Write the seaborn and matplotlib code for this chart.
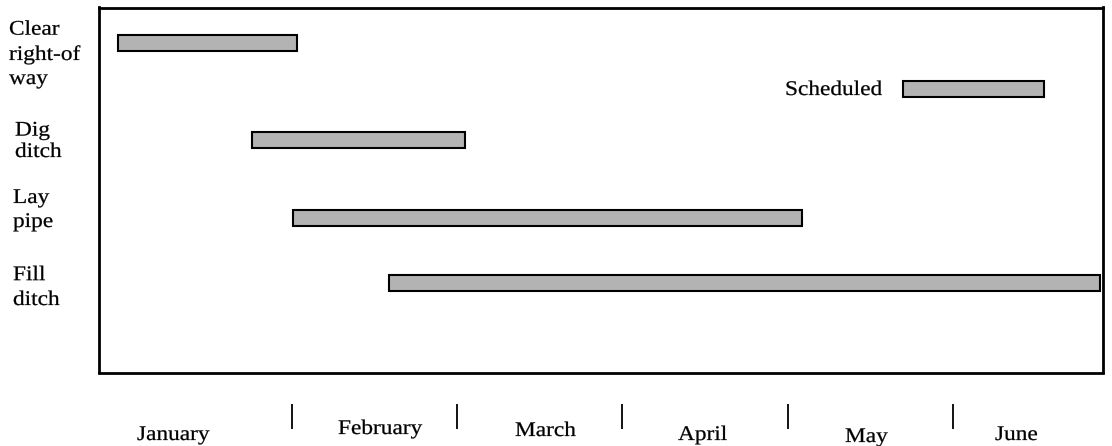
import matplotlib
matplotlib.use("Agg")
import matplotlib.pyplot as plt
import matplotlib.patheffects as pe
from matplotlib.transforms import Affine2D
import seaborn as sns

# ---- data (time axis in months, 0 = start of January) ----
tasks = ["Clear\nright-of\nway", "Dig\nditch", "Lay\npipe", "Fill\nditch"]
task_start = [-0.05, 0.76, 1.01, 1.59]
task_end = [1.03, 2.05, 4.09, 5.89]
months = ["January", "February", "March", "April", "May", "June"]
month_edges = [1, 2, 3, 4, 5]
legend_label = "Scheduled"
legend_span = [4.70, 5.55]

# ---- layout (pixel positions, measured from the top-left of the figure) ----
W, H = 1112, 446
row_y = [43, 140, 218.5, 283]
legend_y = 89.5
bar_h = 16
# (left x, baseline of last line, line spacing)
label_pos = [(9, 84, 1.36), (15, 157, 1.17), (13, 227, 1.36), (13, 305, 1.42)]
month_pos = [(137, 440), (338, 434), (515, 436), (678, 440), (845, 442), (995, 440)]
legend_text_pos = (785, 95)
px0, px_per_month = 126.3, 165.3      # pixel x of Jan 1, width of a month
ax_left, ax_right, ax_top, ax_bottom = 98.5, 1102.5, 7.5, 372.5
tick_top, tick_len = 404, 25

FACE = "#b3b3b3"


class WideInk(pe.AbstractPathEffect):
    """Widen glyphs horizontally about each line's left baseline point and
    give them a hairline outline so the type reads a touch heavier."""

    def __init__(self, sx, lw):
        super().__init__()
        self.sx = sx
        self.lw = lw

    def draw_path(self, renderer, gc, tpath, affine, rgbFace=None):
        gc0 = renderer.new_gc()
        gc0.copy_properties(gc)
        gc0.set_linewidth(self.lw)
        gc0.set_foreground(rgbFace if rgbFace is not None else "black")
        renderer.draw_path(gc0, tpath, Affine2D().scale(self.sx, 1.0) + affine, rgbFace)
        gc0.restore()


sns.set_theme(style="white")
plt.rcParams["font.family"] = ["Liberation Serif", "DejaVu Serif"]
wide = [WideInk(1.12, 0.18)]

fig = plt.figure(figsize=(W / 100, H / 100), dpi=100)
ax = fig.add_axes([ax_left / W, 1 - ax_bottom / H,
                   (ax_right - ax_left) / W, (ax_bottom - ax_top) / H])

to_month = lambda px: (px - px0) / px_per_month
ax.set_xlim(to_month(ax_left), to_month(ax_right))
ax.set_ylim(ax_bottom, ax_top)

durations = [e - s for s, e in zip(task_start, task_end)]
ax.barh(row_y, durations, left=task_start, height=bar_h,
        color=FACE, edgecolor="black", linewidth=1.5, clip_on=False, zorder=3)

# legend key
ax.barh([legend_y], [legend_span[1] - legend_span[0]], left=[legend_span[0]],
        height=bar_h, color=FACE, edgecolor="black", linewidth=1.5, zorder=3)

for sp in ax.spines.values():
    sp.set_visible(True)
    sp.set_color("black")
    sp.set_linewidth(2.0)
ax.set_xticks([])
ax.set_yticks([])

# month boundary ticks on a detached axis below the frame
sec = ax.secondary_xaxis((ax_bottom - tick_top) / (ax_bottom - ax_top))
sec.set_xticks(month_edges)
sec.set_xticklabels([])
sec.tick_params(axis="x", direction="out", length=tick_len * 0.72, width=1.3,
                color="black", bottom=True)
for sp in sec.spines.values():
    sp.set_visible(False)

fs = 15
for label, (x, y, ls) in zip(tasks, label_pos):
    fig.text(x / W, 1 - y / H, label, fontsize=fs, ha="left", va="baseline",
             linespacing=ls, color="black", path_effects=wide)

for name, (x, y) in zip(months, month_pos):
    fig.text(x / W, 1 - y / H, name, fontsize=fs, ha="left", va="baseline",
             color="black", path_effects=wide)

fig.text(legend_text_pos[0] / W, 1 - legend_text_pos[1] / H, legend_label,
         fontsize=fs, ha="left", va="baseline", color="black", path_effects=wide)

fig.savefig("out.png", dpi=100, facecolor="white")
